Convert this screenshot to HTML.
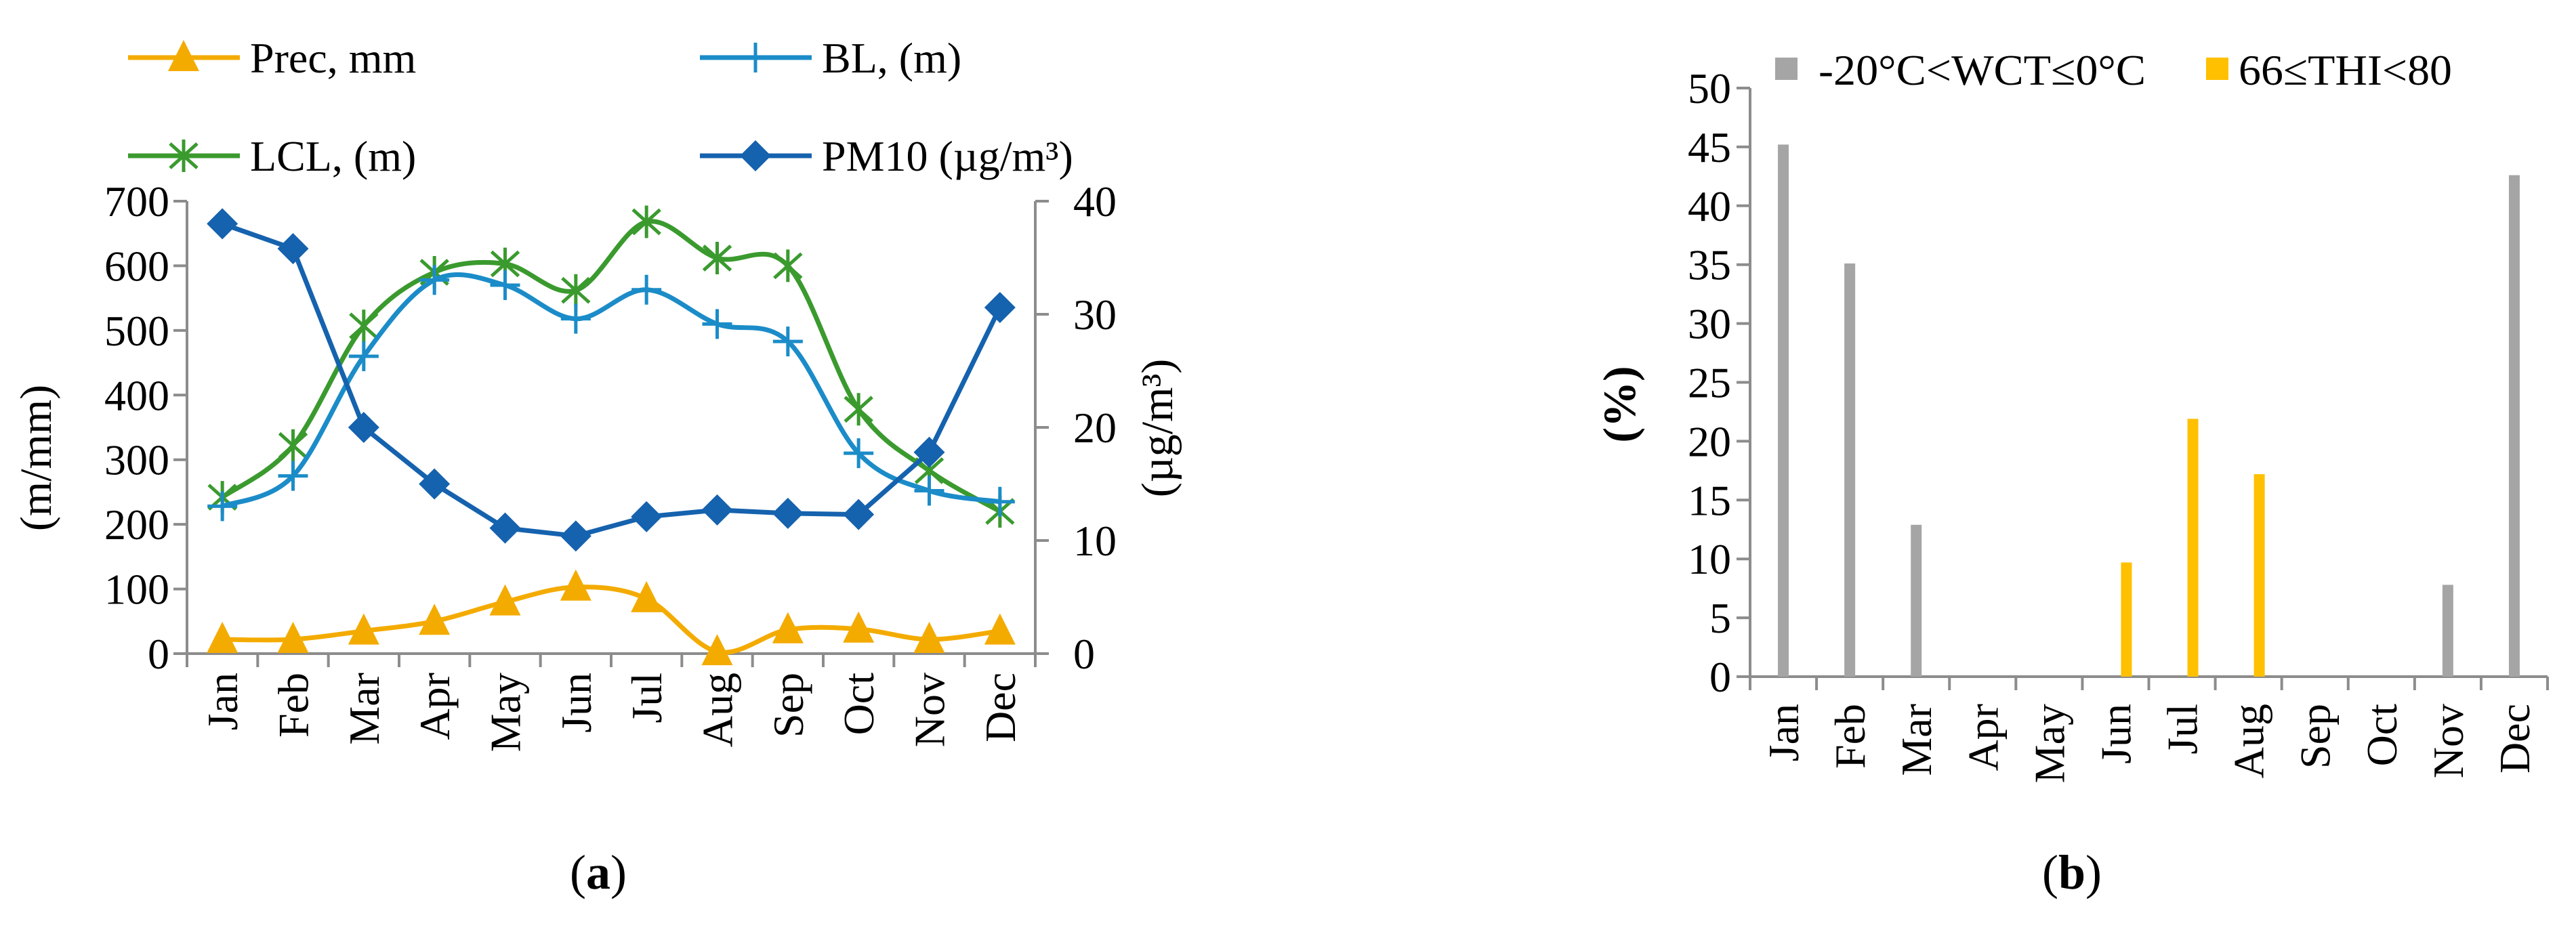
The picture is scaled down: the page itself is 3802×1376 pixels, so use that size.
<!DOCTYPE html>
<html><head><meta charset="utf-8"><style>
html,body{margin:0;padding:0;background:#fff;font-family:"Liberation Serif","DejaVu Serif",serif;}
svg{display:block;}
svg text{font-family:"Liberation Serif","DejaVu Serif",serif;}
</style></head><body>
<svg id="fig" width="3802" height="1376" viewBox="0 0 3802 1376" xmlns="http://www.w3.org/2000/svg" font-family="Liberation Serif, DejaVu Serif, serif">
<g id="chartA"></g>
<g id="chartB"></g>
</svg>
<script>
const months = ["Jan","Feb","Mar","Apr","May","Jun","Jul","Aug","Sep","Oct","Nov","Dec"];
const precVals = [22,22,35,50,80,103,85,3,37,38,22,35];
const blVals = [228,275,460,578,570,518,563,510,483,310,252,235];
const lclVals = [242,322,507,590,603,562,668,612,600,378,283,220];
const pm10Vals = [38.0,35.8,20.0,15.0,11.1,10.4,12.1,12.7,12.4,12.3,17.8,30.6];
const leftTicks = [0,100,200,300,400,500,600,700];
const rightTicks = [0,10,20,30,40];
const wctVals = [45.2,35.1,12.9,0,0,0,0,0,0,0,7.8,42.6];
const thiVals = [0,0,0,0,0,9.7,21.9,17.2,0,0,0,0];
const pctTicks = [0,5,10,15,20,25,30,35,40,45,50];

const NS="http://www.w3.org/2000/svg";
const FF="Liberation Serif, DejaVu Serif, serif";
function mk(tag,attrs,parent,text){const e=document.createElementNS(NS,tag);for(const k in attrs)e.setAttribute(k,attrs[k]);if(tag==='text')e.setAttribute('font-family',FF);if(text!==undefined)e.textContent=text;parent.appendChild(e);return e;}
const AX="#8c8c8c";

// ---------- Chart A ----------
const A=document.getElementById('chartA');
const aL=276,aR=1528,aT=297,aB=965;
const aW=(aR-aL)/12;
const xA=i=>aL+aW*(i+0.5);
const yL=v=>aB-v*(aB-aT)/700;
const yR=v=>aB-v*(aB-aT)/40;

let e;
e=mk('line',{x1:aL,y1:aT,x2:aL,y2:aB,stroke:AX,'stroke-width':4},A);

e=mk('line',{x1:aR,y1:aT,x2:aR,y2:aB,stroke:AX,'stroke-width':4},A);

e=mk('line',{x1:aL-20,y1:aB,x2:aR+20,y2:aB,stroke:AX,'stroke-width':4},A);

leftTicks.forEach(v=>{
  mk('line',{x1:aL-20,y1:yL(v),x2:aL,y2:yL(v),stroke:AX,'stroke-width':4},A);
  e=mk('text',{x:aL-26,y:yL(v)+22,'font-size':64,'text-anchor':'end'},A,String(v));
  
});
rightTicks.forEach(v=>{
  mk('line',{x1:aR,y1:yR(v),x2:aR+20,y2:yR(v),stroke:AX,'stroke-width':4},A);
  e=mk('text',{x:aR+56,y:yR(v)+22,'font-size':64,'text-anchor':'start'},A,String(v));
  
});
for(let i=0;i<=12;i++){mk('line',{x1:aL+aW*i,y1:aB,x2:aL+aW*i,y2:aB+20,stroke:AX,'stroke-width':4},A);}
months.forEach((m,i)=>{
  e=mk('text',{transform:`translate(${xA(i)+22},${aB+28}) rotate(-90)`,'font-size':64,'text-anchor':'end'},A,m);
  
});
e=mk('text',{transform:`translate(75,676) rotate(-90)`,'font-size':66,'text-anchor':'middle'},A,'(m/mm)');

e=mk('text',{transform:`translate(1730,632) rotate(-90)`,'font-size':66,'text-anchor':'middle'},A,'(µg/m³)');

e=mk('text',{x:883,y:1312,'font-size':72,'text-anchor':'middle'},A);
e.innerHTML='(<tspan font-weight="bold">a</tspan>)';


function smoothPath(pts){
  let d=`M${pts[0][0]},${pts[0][1]}`;
  for(let i=0;i<pts.length-1;i++){
    const p0=pts[Math.max(i-1,0)],p1=pts[i],p2=pts[i+1],p3=pts[Math.min(i+2,pts.length-1)];
    const c1=[p1[0]+(p2[0]-p0[0])/6,p1[1]+(p2[1]-p0[1])/6];
    const c2=[p2[0]-(p3[0]-p1[0])/6,p2[1]-(p3[1]-p1[1])/6];
    d+=` C${c1[0]},${c1[1]} ${c2[0]},${c2[1]} ${p2[0]},${p2[1]}`;
  }
  return d;
}
function marker(type,x,y,col,parent){
  if(type==='tri') return mk('polygon',{points:`${x},${y-26} ${x-23},${y+20} ${x+23},${y+20}`,fill:col},parent);
  if(type==='dia') return mk('polygon',{points:`${x},${y-23} ${x+23},${y} ${x},${y+23} ${x-23},${y}`,fill:col},parent);
  if(type==='plus') return mk('path',{d:`M${x-22},${y}H${x+22}M${x},${y-22}V${y+22}`,stroke:col,'stroke-width':5,fill:'none'},parent);
  if(type==='star') return mk('path',{d:`M${x},${y-24}V${y+24}M${x-20},${y-18}L${x+20},${y+18}M${x+20},${y-18}L${x-20},${y+18}`,stroke:col,'stroke-width':5,fill:'none'},parent);
}
const series=[
 {vals:lclVals,col:'#3a9a2e',type:'star',smooth:true,name:'lcl',scale:yL},
 {vals:blVals,col:'#1b8cc8',type:'plus',smooth:true,name:'bl',scale:yL},
 {vals:precVals,col:'#f4ab00',type:'tri',smooth:true,name:'prec',scale:yL},
 {vals:pm10Vals,col:'#1562ae',type:'dia',smooth:false,name:'pm10',scale:yR}
];
series.forEach(s=>{
  const pts=s.vals.map((v,i)=>[xA(i),s.scale(v)]);
  const d=s.smooth?smoothPath(pts):'M'+pts.map(p=>p.join(',')).join(' L');
  e=mk('path',{d:d,fill:'none',stroke:s.col,'stroke-width':7,'stroke-linejoin':'round'},A);
  
  pts.forEach(p=>{e=marker(s.type,p[0],p[1],s.col,A);});
});
const legA=[
 {x:189,y:85,col:'#f4ab00',type:'tri',label:'Prec, mm',name:'legend-prec'},
 {x:1033,y:85,col:'#1b8cc8',type:'plus',label:'BL, (m)',name:'legend-bl'},
 {x:189,y:230,col:'#3a9a2e',type:'star',label:'LCL, (m)',name:'legend-lcl'},
 {x:1033,y:230,col:'#1562ae',type:'dia',label:'PM10 (µg/m³)',name:'legend-pm10'}
];
legA.forEach(l=>{
  const g=mk('g',{},A);
  
  mk('line',{x1:l.x,y1:l.y,x2:l.x+165,y2:l.y,stroke:l.col,'stroke-width':7},g);
  marker(l.type,l.x+82,l.y,l.col,g);
  mk('text',{x:l.x+180,y:l.y+22,'font-size':64},g,l.label);
});

// ---------- Chart B ----------
const B=document.getElementById('chartB');
const bL=2583,bR=3760,bT=130,bB=999;
const bW=(bR-bL)/12;
const xB=i=>bL+bW*(i+0.5);
const yB=v=>bB-v*(bB-bT)/50;
e=mk('line',{x1:bL,y1:bT,x2:bL,y2:bB,stroke:AX,'stroke-width':4},B);

e=mk('line',{x1:bL-20,y1:bB,x2:bR,y2:bB,stroke:AX,'stroke-width':4},B);

pctTicks.forEach(v=>{
  mk('line',{x1:bL-20,y1:yB(v),x2:bL,y2:yB(v),stroke:AX,'stroke-width':4},B);
  e=mk('text',{x:bL-28,y:yB(v)+22,'font-size':64,'text-anchor':'end'},B,String(v));
  
});
for(let i=0;i<=12;i++){mk('line',{x1:bL+bW*i,y1:bB,x2:bL+bW*i,y2:bB+20,stroke:AX,'stroke-width':4},B);}
months.forEach((m,i)=>{
  e=mk('text',{transform:`translate(${xB(i)+22},${bB+40}) rotate(-90)`,'font-size':64,'text-anchor':'end'},B,m);
  
});
wctVals.forEach((v,i)=>{
  if(v<=0)return;
  e=mk('rect',{x:xB(i)-8,y:yB(v),width:16,height:bB-yB(v),fill:'#a5a5a5'},B);
  
});
thiVals.forEach((v,i)=>{
  if(v<=0)return;
  e=mk('rect',{x:xB(i)+8,y:yB(v),width:16,height:bB-yB(v),fill:'#ffc000'},B);
  
});
e=mk('text',{transform:`translate(2413,597) rotate(-90)`,'font-size':68,'font-weight':'bold','text-anchor':'middle'},B,'(%)');

e=mk('text',{x:3058,y:1312,'font-size':72,'text-anchor':'middle'},B);
e.innerHTML='(<tspan font-weight="bold">b</tspan>)';

let g=mk('g',{},B);

mk('rect',{x:2620,y:85,width:33,height:33,fill:'#a5a5a5'},g);
mk('text',{x:2684,y:125,'font-size':64,textLength:483,lengthAdjust:'spacingAndGlyphs'},g,'-20°C<WCT≤0°C');
g=mk('g',{},B);

mk('rect',{x:3256,y:85,width:33,height:33,fill:'#ffc000'},g);
mk('text',{x:3304,y:125,'font-size':64,textLength:315,lengthAdjust:'spacingAndGlyphs'},g,'66≤THI<80');
</script>
</body></html>
